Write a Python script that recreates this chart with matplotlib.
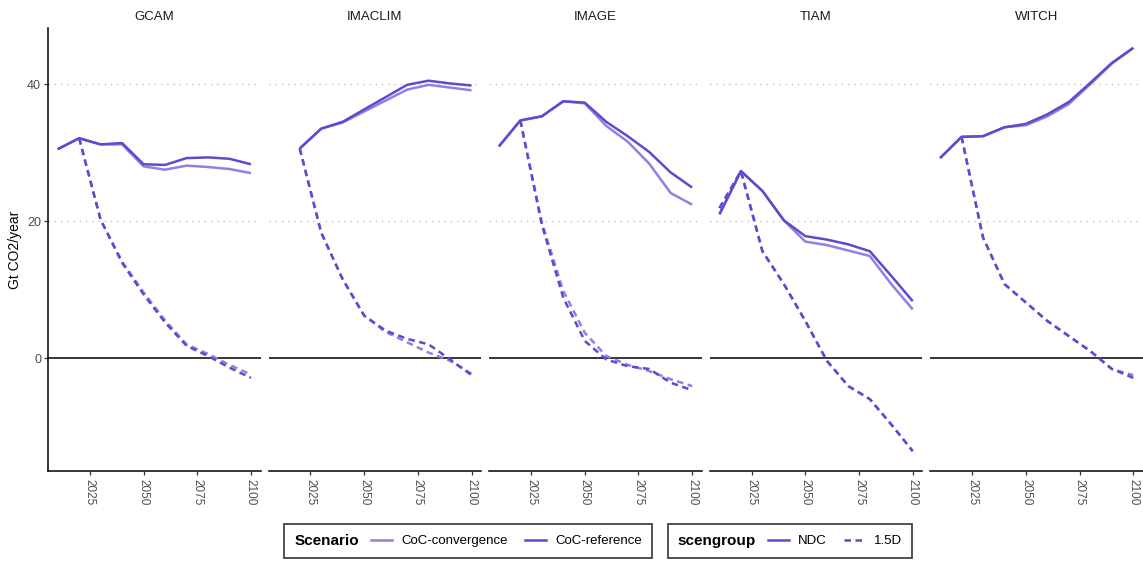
import matplotlib
matplotlib.use("Agg")
import matplotlib.pyplot as plt
from matplotlib.lines import Line2D
from matplotlib.offsetbox import HPacker
import numpy as np

plt.rcParams['font.family'] = ['Liberation Sans', 'DejaVu Sans']

models = ["GCAM", "IMACLIM", "IMAGE", "TIAM", "WITCH"]
scenarios = ["CoC-convergence", "CoC-reference"]
scengroups = ["NDC", "1.5D"]

dec10 = [2010, 2020, 2030, 2040, 2050, 2060, 2070, 2080, 2090, 2100]
dec20 = [2020, 2030, 2040, 2050, 2060, 2070, 2080, 2090, 2100]

# NDC years / values
ndc_years = {"GCAM": dec10, "IMACLIM": dec20, "IMAGE": dec10, "TIAM": dec10, "WITCH": dec10}
ndc_ref = {
    "GCAM":    [30.5, 32.1, 31.2, 31.4, 28.3, 28.2, 29.2, 29.3, 29.1, 28.3],
    "IMACLIM": [30.6, 33.5, 34.5, 36.3, 38.1, 39.9, 40.5, 40.1, 39.8],
    "IMAGE":   [30.9, 34.7, 35.3, 37.5, 37.3, 34.5, 32.4, 30.1, 27.1, 24.9],
    "TIAM":    [21.0, 27.3, 24.4, 20.1, 17.8, 17.3, 16.6, 15.6, 12.0, 8.3],
    "WITCH":   [29.2, 32.3, 32.4, 33.7, 34.2, 35.6, 37.4, 40.2, 43.1, 45.3],
}
ndc_conv = {
    "GCAM":    [30.5, 32.1, 31.2, 31.2, 28.0, 27.5, 28.1, 27.9, 27.6, 27.0],
    "IMACLIM": [30.6, 33.5, 34.4, 36.0, 37.6, 39.2, 39.9, 39.5, 39.1],
    "IMAGE":   [30.9, 34.7, 35.3, 37.5, 37.2, 33.9, 31.6, 28.4, 24.1, 22.4],
    "TIAM":    [21.0, 27.3, 24.4, 20.1, 17.0, 16.5, 15.7, 14.9, 10.8, 7.1],
    "WITCH":   [29.2, 32.3, 32.4, 33.7, 34.0, 35.3, 37.1, 40.0, 43.0, 45.3],
}

# 1.5D years / values
d15_years = {"GCAM": dec20, "IMACLIM": dec20, "IMAGE": dec20, "TIAM": dec10, "WITCH": dec20}
d15_ref = {
    "GCAM":    [32.1, 20.2, 13.9, 9.3, 5.2, 1.8, 0.3, -1.4, -2.9],
    "IMACLIM": [30.6, 18.3, 11.5, 6.2, 4.0, 2.8, 2.0, -0.2, -2.5],
    "IMAGE":   [34.7, 19.5, 8.8, 2.5, -0.2, -1.2, -1.6, -3.6, -4.7],
    "TIAM":    [21.9, 27.3, 15.6, 10.8, 5.4, -0.4, -4.1, -6.0, -9.7, -13.6],
    "WITCH":   [32.3, 17.6, 10.8, 8.1, 5.4, 3.2, 1.0, -1.6, -2.9],
}
d15_conv = {
    "GCAM":    [32.1, 20.2, 14.1, 9.6, 5.5, 2.0, 0.6, -1.0, -2.4],
    "IMACLIM": [30.6, 18.3, 11.5, 6.2, 3.8, 2.3, 0.8, -0.4, -2.3],
    "IMAGE":   [34.7, 19.8, 9.8, 3.7, 0.3, -1.0, -1.9, -3.1, -4.1],
    "TIAM":    [21.9, 27.3, 15.6, 10.8, 5.4, -0.4, -4.1, -6.0, -9.7, -13.6],
    "WITCH":   [32.3, 17.6, 10.8, 8.1, 5.4, 3.2, 1.0, -1.6, -2.5],
}

xticks = [2025, 2050, 2075, 2100]
yticks = [0, 20, 40]

col = {"CoC-convergence": "#8d82e2", "CoC-reference": "#5a4ccf"}
ls = {"NDC": "-", "1.5D": (0, (2.6, 1.8))}
LW = 1.8

W, H = 1143, 562
fig = plt.figure(figsize=(W / 100, H / 100), dpi=100)

left_px, right_px, gap_px = 48, 1143, 8
top_px, bot_px = 28, 471
pw = (right_px - left_px - 4 * gap_px) / 5

axes = []
for i, m in enumerate(models):
    x0 = left_px + i * (pw + gap_px)
    ax = fig.add_axes([x0 / W, 1 - bot_px / H, pw / W, (bot_px - top_px) / H])
    axes.append(ax)
    ax.set_xlim(2005.5, 2104.5)
    ax.set_ylim(-16.5, 48.2)
    for y in [20, 40]:
        ax.axhline(y, color="#b5b5b5", lw=0.9, ls=(0, (1, 4)), zorder=0)
    ax.axhline(0, color="black", lw=1.1, zorder=1)
    series = [
        (d15_years[m], d15_conv[m], "CoC-convergence", "1.5D"),
        (d15_years[m], d15_ref[m], "CoC-reference", "1.5D"),
        (ndc_years[m], ndc_conv[m], "CoC-convergence", "NDC"),
        (ndc_years[m], ndc_ref[m], "CoC-reference", "NDC"),
    ]
    for yrs, vals, sc, sg in series:
        ax.plot(yrs, vals, color=col[sc], ls=ls[sg], lw=LW, zorder=3,
                solid_capstyle="butt", dash_capstyle="butt")
    ax.set_xticks(xticks)
    ax.set_xticklabels([str(t) for t in xticks], rotation=-90, fontsize=8.5,
                       color="#4d4d4d")
    ax.set_yticks(yticks)
    for s in ["top", "right"]:
        ax.spines[s].set_visible(False)
    ax.spines["bottom"].set_linewidth(1.1)
    ax.spines["left"].set_linewidth(1.1)
    ax.tick_params(axis="x", length=3, width=0.9, color="#333333", pad=3)
    ax.tick_params(axis="y", length=3, width=0.9, color="#333333", pad=2,
                   labelsize=9, labelcolor="#4d4d4d")
    if i > 0:
        ax.spines["left"].set_visible(False)
        ax.tick_params(axis="y", left=False, labelleft=False)
    ax.set_title(m, fontsize=9.5, pad=6, color="#1a1a1a")

axes[0].set_ylabel("Gt CO2/year", fontsize=10, labelpad=4)


def side_title_legend(handles, labels, title, center_x, center_y):
    leg = fig.legend(handles, labels, title=title, ncol=len(handles),
                     loc="center", bbox_to_anchor=(center_x, center_y),
                     frameon=True, fancybox=False, edgecolor="black",
                     fontsize=9.5, handlelength=1.6, handletextpad=0.7,
                     columnspacing=1.3, borderpad=0.75,
                     title_fontproperties={"weight": "bold", "size": 11})
    leg.get_frame().set_linewidth(1.2)
    fs = leg._fontsize
    box = HPacker(pad=leg.borderpad * fs, sep=0.9 * fs, align="center",
                  children=[leg._legend_title_box, leg._legend_handle_box])
    box.set_figure(fig)
    box.axes = leg.axes
    box.set_offset(leg._findoffset)
    leg._legend_box = box
    return leg


h1 = [Line2D([], [], color=col[s], lw=LW) for s in scenarios]
h2 = [Line2D([], [], color=col["CoC-reference"], lw=LW, ls=ls[g]) for g in scengroups]
side_title_legend(h1, scenarios, "Scenario", 468 / W, 1 - 541 / H)
side_title_legend(h2, scengroups, "scengroup", 790 / W, 1 - 541 / H)

fig.savefig("out.png", dpi=100)
